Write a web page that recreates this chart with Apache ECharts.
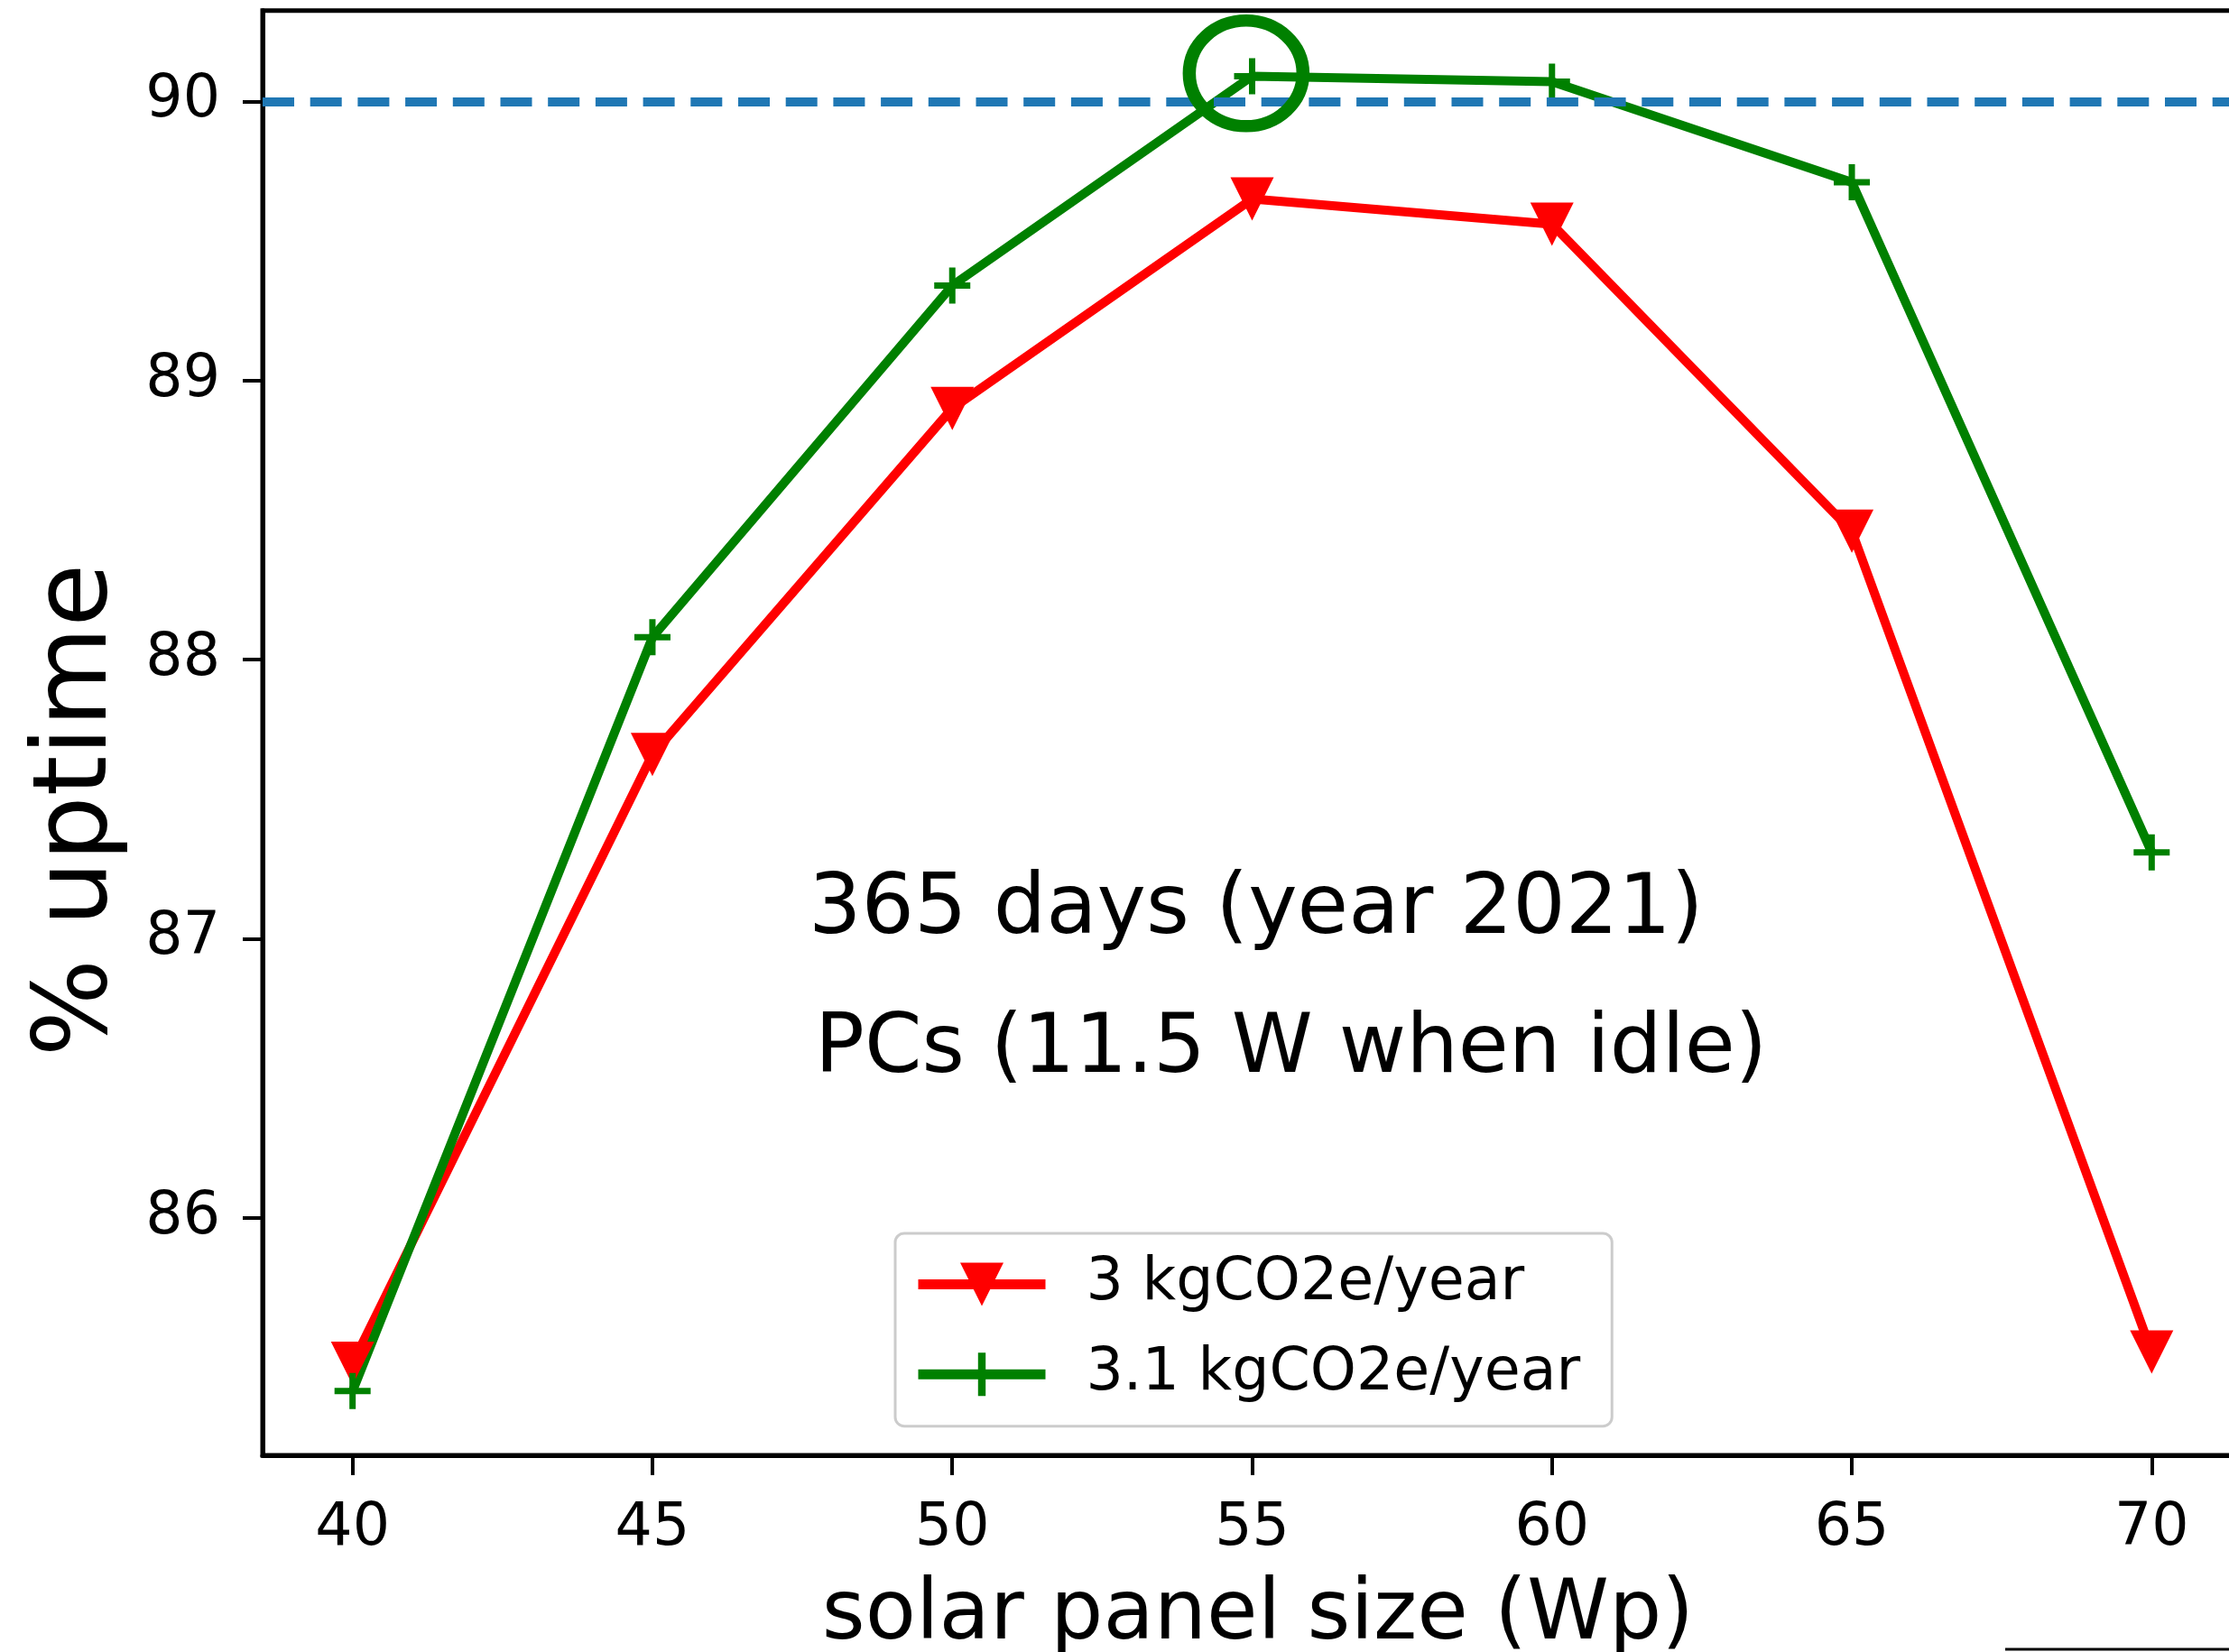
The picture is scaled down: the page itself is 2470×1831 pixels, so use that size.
<!DOCTYPE html>
<html><head><meta charset="utf-8">
<script src="https://cdn.jsdelivr.net/npm/echarts@6/dist/echarts.min.js"></script>
<style>html,body{margin:0;padding:0;background:#fff}#c{width:2470px;height:1831px}</style>
</head><body><div id="c"></div>
<script>
// ---- data ----
const panelSizes = [40, 45, 50, 55, 60, 65, 70];
const uptime3kg = [85.48, 87.66, 88.90, 89.65, 89.56, 88.46, 85.52];
const uptime31kg = [85.38, 88.08, 89.34, 90.09, 90.07, 89.71, 87.31];
const seriesNames = ['3 kgCO2e/year', '3.1 kgCO2e/year'];
const xTicks = [40, 45, 50, 55, 60, 65, 70];
const yTicks = [86, 87, 88, 89, 90];
const targetUptime = [90];
const circledPoint = [[54.9, 90.10]];
const annotationLines = ['365 days (year 2021)', 'PCs (11.5 W when idle)'];
const xAxisTitle = 'solar panel size (Wp)';
const yAxisTitle = '% uptime';

const FONT = '"DejaVu Sans", "Noto Sans", sans-serif';
const PLUS = 'path://M0,16.5H40V23.5H0Z M16.5,0H23.5V40H16.5Z';

const chart = echarts.init(document.getElementById('c'), null, {renderer: 'canvas'});
const axisCommon = {
  type: 'value',
  splitLine: {show: false},
  axisLine: {show: true, onZero: false, lineStyle: {color: '#000', width: 5}},
};
chart.setOption({
  animation: false,
  backgroundColor: '#fff',
  grid: {left: 291, top: 11.7, width: 2193, height: 1601.3, show: true,
         outerBoundsMode: 'none', containLabel: false,
         borderColor: '#000', borderWidth: 5, backgroundColor: 'transparent'},
  xAxis: Object.assign({}, axisCommon, {
    min: 38.5, max: 71.5,
    axisTick: {show: true, length: 22, lineStyle: {color: '#000', width: 4}, customValues: xTicks},
    axisLabel: {customValues: xTicks, margin: 50, color: '#000', fontSize: 65, fontFamily: FONT}
  }),
  yAxis: Object.assign({}, axisCommon, {
    min: 85.15, max: 90.325,
    axisTick: {show: true, length: 22, lineStyle: {color: '#000', width: 4}, customValues: yTicks},
    axisLabel: {customValues: yTicks, margin: 47, color: '#000', fontSize: 65, fontFamily: FONT}
  }),
  legend: {
    orient: 'vertical', left: 992, top: 1367,
    padding: [24, 35, 25, 20],
    itemWidth: 141, itemHeight: 60, itemGap: 34.7,
    backgroundColor: '#fff', borderColor: '#cccccc', borderWidth: 3, borderRadius: 10,
    selectedMode: false,
    lineStyle: {width: 11},
    textStyle: {fontSize: 65, lineHeight: 60, fontFamily: FONT, color: '#000', padding: [0, 0, 0, 40]},
    data: seriesNames
  },
  series: [
    {
      type: 'line', name: seriesNames[0],
      data: panelSizes.map((x, i) => [x, uptime3kg[i]]),
      symbol: 'triangle', symbolRotate: 180, symbolSize: 48, showAllSymbol: true,
      color: '#ff0000',
      lineStyle: {color: '#ff0000', width: 10},
      itemStyle: {color: '#ff0000'},
      markLine: {
        silent: true, symbol: 'none', label: {show: false},
        lineStyle: {color: '#1f77b4', width: 10, type: [35, 17.7], opacity: 1},
        data: targetUptime.map(v => ({yAxis: v}))
      }
    },
    {
      type: 'line', name: seriesNames[1],
      data: panelSizes.map((x, i) => [x, uptime31kg[i]]),
      symbol: PLUS, symbolSize: 40, showAllSymbol: true,
      color: '#008000',
      lineStyle: {color: '#008000', width: 10},
      itemStyle: {color: '#008000'}
    },
    {
      type: 'scatter', name: 'highlight',
      data: circledPoint, silent: true, z: 5,
      symbol: 'circle', symbolSize: [126, 117],
      itemStyle: {color: 'rgba(0,0,0,0)', borderColor: '#008000', borderWidth: 14, opacity: 1}
    }
  ],
  graphic: [
    {type: 'text', x: 896, y: 1010, style: {text: annotationLines[0], font: '92px ' + FONT, fill: '#000', align: 'left', textAlign: 'left', verticalAlign: 'middle', textVerticalAlign: 'middle'}},
    {type: 'text', x: 903, y: 1164, style: {text: annotationLines[1], font: '91px ' + FONT, fill: '#000', align: 'left', textAlign: 'left', verticalAlign: 'middle', textVerticalAlign: 'middle'}},
    {type: 'text', x: 1394, y: 1792, style: {text: xAxisTitle, font: '92px ' + FONT, fill: '#000', align: 'center', textAlign: 'center', verticalAlign: 'middle', textVerticalAlign: 'middle'}},
    {type: 'text', x: 87, y: 898, rotation: Math.PI / 2, style: {text: yAxisTitle, font: '114px ' + FONT, fill: '#000', align: 'center', textAlign: 'center', verticalAlign: 'middle', textVerticalAlign: 'middle'}},
    {type: 'line', shape: {x1: 2222, y1: 1828, x2: 2470, y2: 1828}, style: {stroke: '#000', lineWidth: 3}}
  ]
});
</script>
</body></html>
